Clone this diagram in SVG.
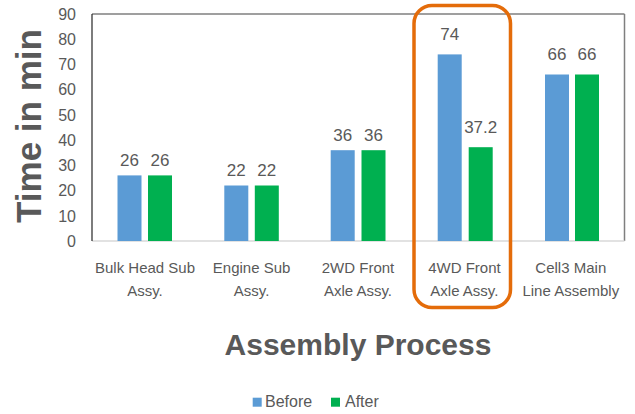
<svg xmlns="http://www.w3.org/2000/svg" width="635" height="414" viewBox="0 0 635 414">
  <style>
    text { font-family: "Liberation Sans", Arial, sans-serif; fill: #595959; }
    .tick { font-size: 16px; text-anchor: end; }
    .val { font-size: 17px; text-anchor: middle; }
    .cat { font-size: 15px; text-anchor: middle; }
    .title { font-size: 30px; font-weight: bold; text-anchor: middle; }
    .leg { font-size: 16px; }
    .before { fill: #5B9BD5; }
    .after { fill: #00B050; }
  </style>

  <rect width="635" height="414" fill="#FFFFFF"/>

  <!-- plot frame -->
  <g id="frame">
    <line x1="92" y1="14" x2="624.5" y2="14" stroke="#7F7F7F" stroke-width="1.5"/>
    <line x1="624.5" y1="14" x2="624.5" y2="241" stroke="#7F7F7F" stroke-width="1.5"/>
    <line x1="92" y1="241" x2="624.5" y2="241" stroke="#D9D9D9" stroke-width="1.5"/>
    <line x1="92" y1="14" x2="92" y2="241" stroke="#262626" stroke-width="1.2"/>
  </g>

  <!-- value axis ticks -->
  <g id="y-axis">
    <text class="tick" x="76" y="246.7">0</text>
    <text class="tick" x="76" y="221.5">10</text>
    <text class="tick" x="76" y="196.3">20</text>
    <text class="tick" x="76" y="171.1">30</text>
    <text class="tick" x="76" y="145.8">40</text>
    <text class="tick" x="76" y="120.6">50</text>
    <text class="tick" x="76" y="95.4">60</text>
    <text class="tick" x="76" y="70.2">70</text>
    <text class="tick" x="76" y="44.9">80</text>
    <text class="tick" x="76" y="19.7">90</text>
    <text class="title" transform="translate(41,126) rotate(-90)" style="font-size:35px">Time in min</text>
  </g>

  <!-- Bulk Head Sub Assy. -->
  <g id="bulk-head">
    <rect class="before" x="117.5" y="175.4" width="24" height="65.6"/>
    <rect class="after" x="148" y="175.4" width="24" height="65.6"/>
    <text class="val" x="129.5" y="166">26</text>
    <text class="val" x="160" y="166">26</text>
    <text class="cat" x="145" y="273">Bulk Head Sub</text>
    <text class="cat" x="145" y="296">Assy.</text>
  </g>

  <!-- Engine Sub Assy. -->
  <g id="engine-sub">
    <rect class="before" x="224.3" y="185.5" width="24" height="55.5"/>
    <rect class="after" x="254.8" y="185.5" width="24" height="55.5"/>
    <text class="val" x="236.3" y="176">22</text>
    <text class="val" x="266.8" y="176">22</text>
    <text class="cat" x="251.6" y="273">Engine Sub</text>
    <text class="cat" x="251.6" y="296">Assy.</text>
  </g>

  <!-- 2WD Front Axle Assy. -->
  <g id="wd2-front">
    <rect class="before" x="330.7" y="150.2" width="24" height="90.8"/>
    <rect class="after" x="361.5" y="150.2" width="24" height="90.8"/>
    <text class="val" x="342.7" y="140.5">36</text>
    <text class="val" x="373.5" y="140.5">36</text>
    <text class="cat" x="358" y="273">2WD Front</text>
    <text class="cat" x="358" y="296">Axle Assy.</text>
  </g>

  <!-- 4WD Front Axle Assy. -->
  <g id="wd4-front">
    <rect class="before" x="437.7" y="54.4" width="24" height="186.6"/>
    <rect class="after" x="468.7" y="147.2" width="24" height="93.8"/>
    <text class="val" x="449.7" y="40">74</text>
    <text class="val" x="480.7" y="133">37.2</text>
    <text class="cat" x="464.4" y="273">4WD Front</text>
    <text class="cat" x="464.4" y="296">Axle Assy.</text>
  </g>

  <!-- Cell3 Main Line Assembly -->
  <g id="cell3-main">
    <rect class="before" x="545" y="74.5" width="24" height="166.5"/>
    <rect class="after" x="575" y="74.5" width="24" height="166.5"/>
    <text class="val" x="557" y="60">66</text>
    <text class="val" x="587" y="60">66</text>
    <text class="cat" x="570.8" y="273">Cell3 Main</text>
    <text class="cat" x="570.8" y="296">Line Assembly</text>
  </g>

  <!-- highlight around the 4WD category -->
  <g id="highlight">
    <rect x="414" y="5.5" width="96.5" height="302" rx="18" ry="18" fill="none" stroke="#E46C0A" stroke-width="3.5"/>
  </g>

  <!-- category axis title -->
  <text class="title" x="358" y="355">Assembly Process</text>

  <!-- legend -->
  <g id="legend">
    <rect class="before" x="252.7" y="397.7" width="9" height="9"/>
    <text class="leg" x="265" y="407.3">Before</text>
    <rect class="after" x="331" y="397.7" width="9" height="9"/>
    <text class="leg" x="345" y="407.3">After</text>
  </g>
</svg>
